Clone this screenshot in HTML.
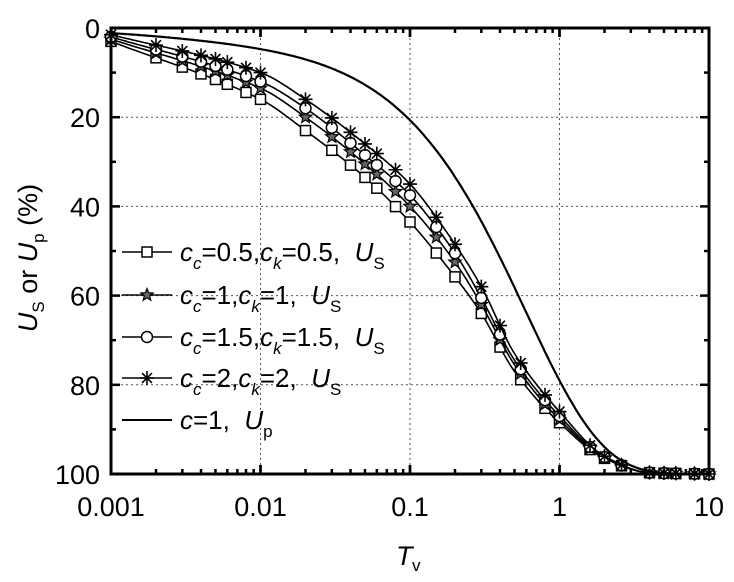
<!DOCTYPE html>
<html><head><meta charset="utf-8"><style>
html,body{margin:0;padding:0;background:#fff;}
svg{display:block;font-family:"Liberation Sans",Arial,sans-serif;}
</style></head><body>
<svg id="s" width="734" height="582" viewBox="0 0 734 582" xmlns="http://www.w3.org/2000/svg">
<rect width="734" height="582" fill="#fff"/>
<g id="grid" stroke="#555" stroke-width="1" stroke-dasharray="2,3"></g>
<g id="series"></g>
<g id="axes"></g>
<g font-size="27" fill="#000" id="labels"></g>
<g id="legend"></g>
<text x="396" y="565" font-size="27" font-style="italic">T</text><text x="412" y="571" font-size="17">v</text>
<text transform="translate(37,258) rotate(-90)" font-size="27" text-anchor="middle"><tspan font-style="italic">U</tspan><tspan font-size="17" dy="7">S</tspan><tspan dy="-7"> or </tspan><tspan font-style="italic">U</tspan><tspan font-size="17" dy="7">p</tspan><tspan dy="-7"> (%)</tspan></text>
</svg>
<script>
const NS="http://www.w3.org/2000/svg";
const L=111,R=709,T=28,B=474;
const X=t=>L+(Math.log10(t)+3)*(R-L)/4;
const Y=u=>T+u*(B-T)/100;
function el(p,tag,a){const e=document.createElementNS(NS,tag);for(const k in a)e.setAttribute(k,a[k]);p.appendChild(e);return e;}
const g=id=>document.getElementById(id);
for(let d=-2;d<=0;d++){const x=X(Math.pow(10,d));el(g('grid'),'line',{x1:x,x2:x,y1:T,y2:B});}
for(let u=20;u<=80;u+=20){el(g('grid'),'line',{x1:L,x2:R,y1:Y(u),y2:Y(u)});}
function interp(xs,ys){const lx=xs.map(Math.log10),n=lx.length;const d=[],m=[];
for(let i=0;i<n-1;i++)d.push((ys[i+1]-ys[i])/(lx[i+1]-lx[i]));
m[0]=d[0];m[n-1]=d[n-2];for(let i=1;i<n-1;i++){m[i]=(d[i-1]*d[i]<=0)?0:2/(1/d[i-1]+1/d[i]);}
return t=>{const x=Math.log10(t);let i=0;while(i<n-2&&x>lx[i+1])i++;const h=lx[i+1]-lx[i],s=(x-lx[i])/h;
const h00=2*s*s*s-3*s*s+1,h10=s*s*s-2*s*s+s,h01=-2*s*s*s+3*s*s,h11=s*s*s-s*s;
return Math.min(100,h00*ys[i]+h10*h*m[i]+h01*ys[i+1]+h11*h*m[i+1]);};}
const tv=[0.001,0.01,0.02,0.05,0.1,0.2,0.3,0.5,1,2,4,10];
const S=[
 {y:[3,16,23,33.5,43.5,55.8,64,77,88.5,96.5,99.7,100],m:'sq'},
 {y:[2.5,13.5,20,30.5,40,52.5,62,75.5,87.8,96.3,99.7,100],m:'star'},
 {y:[2,12,18,28.5,37.5,50.5,60.5,74.5,87,96.2,99.7,100],m:'circ'},
 {y:[1.5,10,16,26,35,48.5,58,73,86,96,99.7,100],m:'ast'}];
const mk=[0.001,0.002,0.003,0.004,0.005,0.006,0.008,0.01,0.02,0.03,0.04,0.05,0.06,0.08,0.1,0.15,0.2,0.3,0.4,0.55,0.8,1,1.6,2,2.6,4,5,6,8,10];
function marker(p,type,x,y){
 if(type=='sq')el(p,'rect',{x:x-5,y:y-5,width:10,height:10,fill:'#fff',stroke:'#000','stroke-width':1.5});
 else if(type=='circ')el(p,'circle',{cx:x,cy:y,r:5.5,fill:'#fff',stroke:'#000','stroke-width':1.5});
 else if(type=='star'){let pts=[];for(let i=0;i<10;i++){const r=i%2?2.8:6.5,a=-Math.PI/2+i*Math.PI/5;pts.push((x+r*Math.cos(a)).toFixed(1)+','+(y+r*Math.sin(a)).toFixed(1));}
  el(p,'polygon',{points:pts.join(' '),fill:'#666',stroke:'#000','stroke-width':1.2});}
 else{let d='';for(let i=0;i<4;i++){const a=i*Math.PI/4;d+=`M${x-7*Math.cos(a)},${y-7*Math.sin(a)}L${x+7*Math.cos(a)},${y+7*Math.sin(a)}`;}
  el(p,'path',{d:d,stroke:'#000','stroke-width':1.6});}
}
const sg=g('series');
function curve(f){let d='';for(let i=0;i<=400;i++){const t=Math.pow(10,-3+4*i/400);d+=(i?'L':'M')+X(t).toFixed(1)+','+Y(f(t)).toFixed(1);}return d;}
S.forEach(s=>{const f=interp(tv,s.y);el(sg,'path',{d:curve(f),fill:'none',stroke:'#000','stroke-width':1.6});
 mk.forEach(t=>marker(sg,s.m,X(t),Y(f(t))));});
const up=t=>{const base=100*(1-Math.exp(-1.56*Math.pow(t,0.845)));const extra=1.6*Math.exp(-Math.pow(Math.log10(t)+2,2)/1.2);return Math.min(100,base+extra);};
el(sg,'path',{d:curve(up),fill:'none',stroke:'#000','stroke-width':2.2});
const ax=g('axes');
el(ax,'rect',{x:L,y:T,width:R-L,height:B-T,fill:'none',stroke:'#000','stroke-width':3});
for(let d=-3;d<=0;d++)for(let k=1;k<=10;k++){const x=X(k*Math.pow(10,d));const len=(k==1||k==10)?9:5;
 el(ax,'line',{x1:x,x2:x,y1:B,y2:B-len,stroke:'#000','stroke-width':2.5});el(ax,'line',{x1:x,x2:x,y1:T,y2:T+len,stroke:'#000','stroke-width':2.5});}
for(let u=0;u<=100;u+=10){const y=Y(u),len=u%20?5:9;
 el(ax,'line',{x1:L,x2:L+len,y1:y,y2:y,stroke:'#000','stroke-width':2.5});el(ax,'line',{x1:R,x2:R-len,y1:y,y2:y,stroke:'#000','stroke-width':2.5});}
const lb=g('labels');
['0.001','0.01','0.1','1','10'].forEach((s,i)=>{const t=el(lb,'text',{x:X(Math.pow(10,i-3)),y:516,'text-anchor':'middle'});t.textContent=s;});
for(let u=0;u<=100;u+=20){const t=el(lb,'text',{x:100,y:Y(u)+10,'text-anchor':'end'});t.textContent=u;}
const lg=g('legend');
const rows=[
 {y:252,m:'sq',a:'0.5',b:'0.5'},{y:295,m:'star',a:'1',b:'1'},{y:337,m:'circ',a:'1.5',b:'1.5'},{y:378,m:'ast',a:'2',b:'2'}];
rows.forEach(r=>{el(lg,'line',{x1:122,x2:172,y1:r.y,y2:r.y,stroke:'#000','stroke-width':1.6});marker(lg,r.m,147,r.y);
 const t=el(lg,'text',{x:180,y:r.y+9,'font-size':26});
 t.innerHTML=`<tspan font-style="italic">c</tspan><tspan font-style="italic" font-size="17" dy="8">c</tspan><tspan dy="-8">=${r.a},</tspan><tspan font-style="italic">c</tspan><tspan font-style="italic" font-size="17" dy="8">k</tspan><tspan dy="-8">=${r.b},\u00a0 </tspan><tspan font-style="italic">U</tspan><tspan font-size="17" dy="8">S</tspan>`;});
el(lg,'line',{x1:122,x2:172,y1:420,y2:420,stroke:'#000','stroke-width':2});
const t5=el(lg,'text',{x:180,y:429,'font-size':26});
t5.innerHTML='<tspan font-style="italic">c</tspan>=1,\u00a0 <tspan font-style="italic">U</tspan><tspan font-size="17" dy="8">p</tspan>';
</script>
</body></html>
